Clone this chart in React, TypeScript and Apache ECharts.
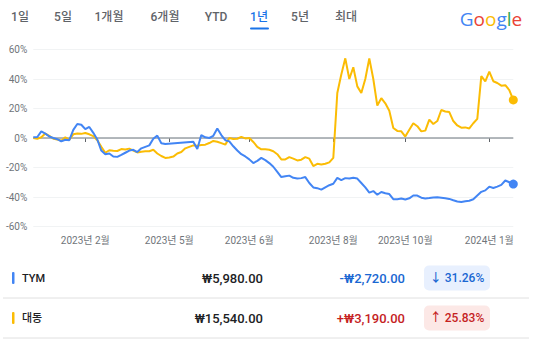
import React, { useEffect, useRef } from "react";
import * as echarts from "echarts";

const tabLabels = ["1일", "5일", "1개월", "6개월", "YTD", "1년", "5년", "최대"];
const tabCenters = [20, 63, 109, 165, 216, 259, 300, 346];
const activeTab = 5;

const xTickLabels = ["2023년 2월", "2023년 5월", "2023년 6월", "2023년 8월", "2023년 10월", "2024년 1월"];
const xTickIndices = [13, 34, 54, 75, 93, 114];
const yTicks = [-60, -40, -20, 0, 20, 40, 60];

const tymValues: (number | null)[] = [
  0.5, 0.7, 4.5, 3, 1, 0, -0.8, -2.3, -1.2, -1.5,
  5.5, 9.5, 9, 6, 7.5, 3.5, -1, -8.5, -11, -10.5,
  -12.5, -12.8, -11.5, -10, -8.5, -8, -9.5, -7, -6, -5,
  -0.5, 1.6, -3.5, -4, null, null, null, null, null, null,
  -2.5, -7.5, 2, 0.5, 0, 1.5, 6.5, 2, -1.5, -2.3,
  -5.6, -8.5, -11, -12.5, -14.5, -17, -15.5, -13.5, -15, -17,
  -19.5, -23, -26.5, -26, -25.5, -27, -27.5, -27.2, -26.5, -30.5,
  -33.5, -34, -35, -33.4, -32, -31, -27, -28.5, -27.2, -27.5,
  -27, -27.5, -30.5, -33.5, -37, -36, -38.5, -36.6, -37.5, -38,
  -41.5, -41.5, -41, -41.7, -40.9, -39, -39, -40.5, -41, -40.7,
  -40.3, -40.2, -40.5, -40.8, -41.3, -42.2, -43, -43.4, -42.9, -42.5,
  -41.5, -39, -36.5, -35.5, -33, -33.9, -33, -31.8, -28.8, -30,
  -31.26,
];

const daedongValues: number[] = [
  0, -0.5, 0.5, 3, 1.5, -0.5, -1, -1.8, 0.5, -1.2,
  2.5, 3, 2.8, 3.4, 2.5, 1.3, -1.5, -6, -10, -8.3,
  -8.6, -8.8, -7.5, -7.8, -7.2, -8.5, -9.8, -9.3, -9, -9,
  -8, -10.5, -12.2, -13.5, -13.2, -12.6, -10.5, -9.5, -7, -6,
  -5, -5.2, -4.8, -4.5, -3.4, -2, -2.5, -3.5, -4.5, 0,
  -0.7, -0.5, 0.8, -0.3, 0, -2.7, -6, -7.7, -7.7, -8,
  -9, -11, -14.5, -14.5, -13, -14, -15.2, -14.7, -13, -14,
  -19, -17.5, -18, -17.5, -16.5, -13.5, 30.5, 43, 54, 40,
  48, 35, 30.5, 40, 54, 40, 22, 27, 23.5, 18.5,
  6.8, 4.8, 4.5, 1, 5.6, 10, 8, 4.5, 5, 12.5,
  9.5, 11.5, 19, 18, 17.6, 11.5, 8.5, 7, 7.2, 6.5,
  10, 13, 42, 38.4, 45, 38.5, 37.3, 35.5, 35.8, 32.5,
  25.83,
];

const seriesNames = ["TYM", "대동"];
const seriesColors = ["#4285f4", "#fbbc04"];
const prices = ["₩5,980.00", "₩15,540.00"];
const changes = ["-₩2,720.00", "+₩3,190.00"];
const changePcts = ["↓ 31.26%", "↑ 25.83%"];
const changeColors = ["#1967d2", "#c5221f"];
const badgeFills = ["#e8f0fe", "#fce8e6"];

const FONT = "Roboto, 'Noto Sans CJK KR', 'Noto Sans', sans-serif";
const LOGO_FONT = "'Open Sans', Roboto, sans-serif";

export default function App() {
  const ref = useRef<HTMLDivElement>(null);
  useEffect(() => {
    document.body.style.margin = "0";
    const chart = echarts.init(ref.current!, null, { renderer: "svg" });
    const categories = tymValues.map((_, i) => String(i));
    const last = categories.length - 1;

    const graphic: any[] = [];
    tabLabels.forEach((t, i) => {
      graphic.push({
        type: "text",
        x: tabCenters[i],
        y: 17,
        style: {
          text: t,
          fill: i === activeTab ? "#1a73e8" : "#5f6368",
          font: `500 12px ${FONT}`,
          textAlign: "center",
          textVerticalAlign: "middle",
        },
      });
    });
    graphic.push({
      type: "rect",
      shape: { x: 250, y: 27.5, width: 19, height: 2, r: 1 },
      style: { fill: "#1a73e8" },
    });
    const logoStyle = (fill: string) => ({ fill, fontSize: 19, fontFamily: LOGO_FONT, fontWeight: 500 });
    graphic.push({
      type: "text",
      x: 491,
      y: 19,
      style: {
        text: "{b|G}{r|o}{y|o}{b|g}{g|l}{r|e}",
        textAlign: "center",
        textVerticalAlign: "middle",
        rich: {
          b: logoStyle("#4285f4"),
          r: logoStyle("#ea4335"),
          y: logoStyle("#fbbc05"),
          g: logoStyle("#34a853"),
        },
      },
    });

    const rowY = [278, 318];
    const sepY = [298, 338];
    seriesNames.forEach((name, i) => {
      const y = rowY[i];
      graphic.push({
        type: "rect",
        shape: { x: 12, y: y - 6, width: 2.5, height: 12, r: 1 },
        style: { fill: seriesColors[i] },
      });
      graphic.push({
        type: "text",
        x: 22,
        y,
        style: { text: name, fill: "#202124", font: `500 11px ${FONT}`, textVerticalAlign: "middle" },
      });
      graphic.push({
        type: "text",
        x: 263,
        y,
        style: { text: prices[i], fill: "#202124", font: `500 13px ${FONT}`, textAlign: "right", textVerticalAlign: "middle" },
      });
      graphic.push({
        type: "text",
        x: 405,
        y,
        style: { text: changes[i], fill: changeColors[i], font: `500 13px ${FONT}`, textAlign: "right", textVerticalAlign: "middle" },
      });
      graphic.push({
        type: "rect",
        shape: { x: 424, y: y - 12.5, width: 66, height: 25, r: 5 },
        style: { fill: badgeFills[i] },
      });
      graphic.push({
        type: "text",
        x: 457,
        y,
        style: { text: changePcts[i], fill: changeColors[i], font: `500 12px ${FONT}`, textAlign: "center", textVerticalAlign: "middle" },
      });
      graphic.push({
        type: "line",
        shape: { x1: 3, y1: sepY[i], x2: 529, y2: sepY[i] },
        style: { stroke: "#e0e0e0", lineWidth: 1 },
      });
    });

    const lineSeries = (name: string, data: (number | null)[], color: string, z: number) => ({
      type: "line",
      name,
      data,
      showSymbol: false,
      connectNulls: true,
      z,
      lineStyle: { color, width: 2 },
      itemStyle: { color },
      markPoint: {
        symbol: "circle",
        symbolSize: 9,
        silent: true,
        label: { show: false },
        itemStyle: { color },
        data: [{ coord: [categories[last], data[last]] }],
      },
    });

    chart.setOption({
      animation: false,
      grid: { left: 33.3, right: 25.7, top: 49.5, bottom: 116.5 },
      xAxis: {
        type: "category",
        data: categories,
        boundaryGap: false,
        axisLine: { show: false },
        axisTick: {
          show: true,
          length: 4,
          interval: (idx: number) => xTickIndices.includes(idx),
          lineStyle: { color: "#5f6368", width: 1 },
        },
        axisLabel: {
          interval: (idx: number) => xTickIndices.includes(idx),
          formatter: (_v: string, idx: number) => {
            const k = xTickIndices.indexOf(idx);
            return k >= 0 ? xTickLabels[k] : "";
          },
          color: "#70757a",
          fontSize: 10,
          fontFamily: FONT,
          margin: 9,
        },
        splitLine: { show: false },
      },
      yAxis: {
        type: "value",
        min: yTicks[0],
        max: yTicks[yTicks.length - 1],
        interval: 20,
        axisLine: { show: false },
        axisTick: { show: false },
        axisLabel: {
          formatter: (v: number) => `${v}%`,
          color: "#70757a",
          fontSize: 10,
          fontFamily: FONT,
          margin: 6,
        },
        splitLine: { lineStyle: { color: "#f1f3f4", width: 1 } },
      },
      series: [
        {
          ...lineSeries(seriesNames[1], daedongValues, seriesColors[1], 2),
          markLine: {
            silent: true,
            symbol: "none",
            label: { show: false },
            lineStyle: { color: "#9aa0a6", width: 1.5, type: "solid" },
            data: [{ yAxis: 0 }],
            z: 1,
          },
        },
        lineSeries(seriesNames[0], tymValues, seriesColors[0], 3),
      ],
      graphic,
    });
    return () => chart.dispose();
  }, []);
  return <div ref={ref} style={{ position: "absolute", left: 0, top: 0, width: 539, height: 343 }} />;
}
